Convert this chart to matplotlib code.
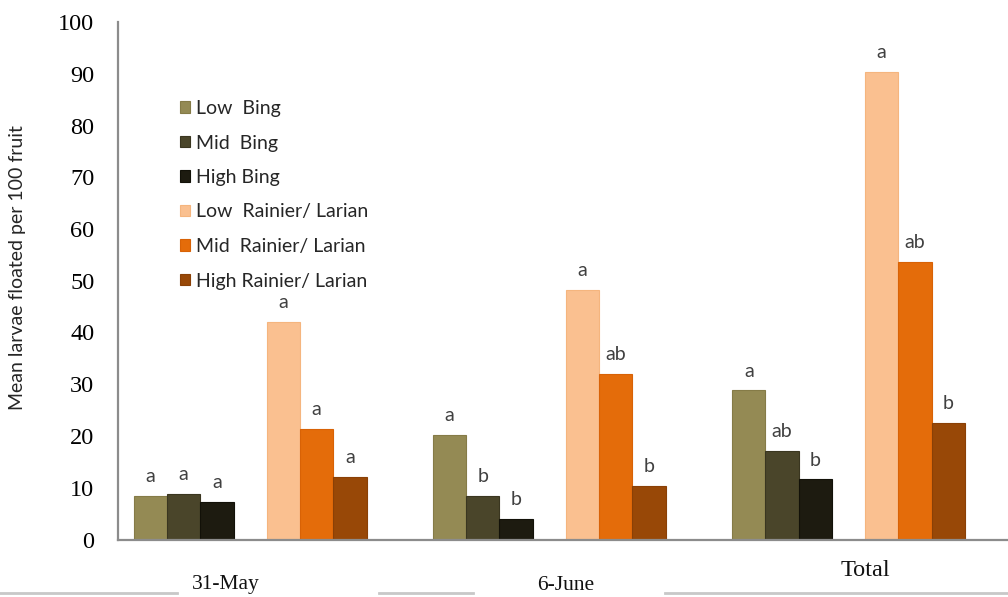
import matplotlib
matplotlib.use("Agg")
import matplotlib.pyplot as plt
from matplotlib.lines import Line2D
import matplotlib.transforms as mtransforms

# ---- data ----
groups = ["31-May", "6-June", "Total"]
series = ["Low  Bing", "Mid  Bing", "High Bing",
          "Low  Rainier/ Larian", "Mid  Rainier/ Larian", "High Rainier/ Larian"]
low_bing = [8.4, 20.2, 28.8]
mid_bing = [8.8, 8.4, 17.1]
high_bing = [7.2, 4.0, 11.6]
low_rainier = [42.0, 48.3, 90.4]
mid_rainier = [21.4, 32.0, 53.6]
high_rainier = [12.1, 10.3, 22.5]
letters_low_bing = ["a", "a", "a"]
letters_mid_bing = ["a", "b", "ab"]
letters_high_bing = ["a", "b", "b"]
letters_low_rainier = ["a", "a", "a"]
letters_mid_rainier = ["a", "ab", "ab"]
letters_high_rainier = ["a", "b", "b"]
yticks = list(range(0, 101, 10))

values = [low_bing, mid_bing, high_bing, low_rainier, mid_rainier, high_rainier]
letters = [letters_low_bing, letters_mid_bing, letters_high_bing,
           letters_low_rainier, letters_mid_rainier, letters_high_rainier]
colors = ["#948A54", "#4A452A", "#1D1B10", "#FAC090", "#E46C0A", "#984807"]
edges = ["#857b47", "#3a3620", "#121108", "#f5b57e", "#d86206", "#8a4006"]

slots = [0, 1, 2, 4, 5, 6]
group_step = 9

fig = plt.figure(figsize=(10.08, 5.97), dpi=100)
ax = fig.add_axes([118 / 1008, (597 - 539.5) / 597, 1 - 118 / 1008, (539.5 - 22) / 597])

label_font = ["Lato", "DejaVu Sans"]
for s, (name, vals, lets, col, ec) in enumerate(zip(series, values, letters, colors, edges)):
    xs = [group_step * g + slots[s] for g in range(len(groups))]
    ax.bar(xs, vals, width=1.0, color=col, edgecolor=ec, linewidth=0.8, label=name)
    for x, v, t in zip(xs, vals, lets):
        ax.annotate(t, (x, v), xytext=(0, 10), textcoords="offset points",
                    ha="center", va="baseline", fontsize=14, color="#404040",
                    family=label_font)

ax.set_xlim(-0.978, 25.8)
ax.set_ylim(0, 100)
ax.set_yticks(yticks)
ax.set_yticklabels([str(t) for t in yticks], family="Liberation Serif", fontsize=17.5)
ax.tick_params(axis="y", length=0, pad=17)
ax.set_xticks([])
for side in ("top", "right"):
    ax.spines[side].set_visible(False)
for side in ("left", "bottom"):
    ax.spines[side].set_color("#8c8c8c")
    ax.spines[side].set_linewidth(1.6)

# category names below the axis
trans = mtransforms.blended_transform_factory(ax.transData, fig.transFigure)
cat_pos = [2.27, 12.5, 21.5]
cat_y = [1 - 585 / 597, 1 - 585 / 597, 1 - 571 / 597]
cat_size = [15.5, 15.5, 17.5]
for name, xp, yp, fs in zip(groups, cat_pos, cat_y, cat_size):
    ax.text(xp, yp, name, transform=trans, ha="center", va="center",
            family="Liberation Serif", fontsize=fs, color="#111111", clip_on=False)

# thin rule along the bottom edge, broken behind the category names
for x0, x1 in [(0, 177), (379, 473), (665, 1008)]:
    fig.add_artist(Line2D([x0 / 1008, x1 / 1008], [1 - 593 / 597] * 2,
                          transform=fig.transFigure, color="#c8c8c8", linewidth=2))

fig.text(18 / 1008, 1 - 268 / 597, "Mean larvae floated per 100 fruit", rotation=90,
         ha="center", va="center", fontsize=14, family=label_font, color="#262626")

leg = ax.legend(loc="upper left", bbox_to_anchor=((180 - 118) / 890, (539.5 - 100) / 517.5),
                frameon=False, handlelength=0.52, handleheight=0.52,
                handletextpad=0.3, labelspacing=0.9, borderaxespad=0, borderpad=0,
                prop={"family": label_font, "size": 14})
for t in leg.get_texts():
    t.set_color("#262626")

fig.savefig("out.png", dpi=100)
